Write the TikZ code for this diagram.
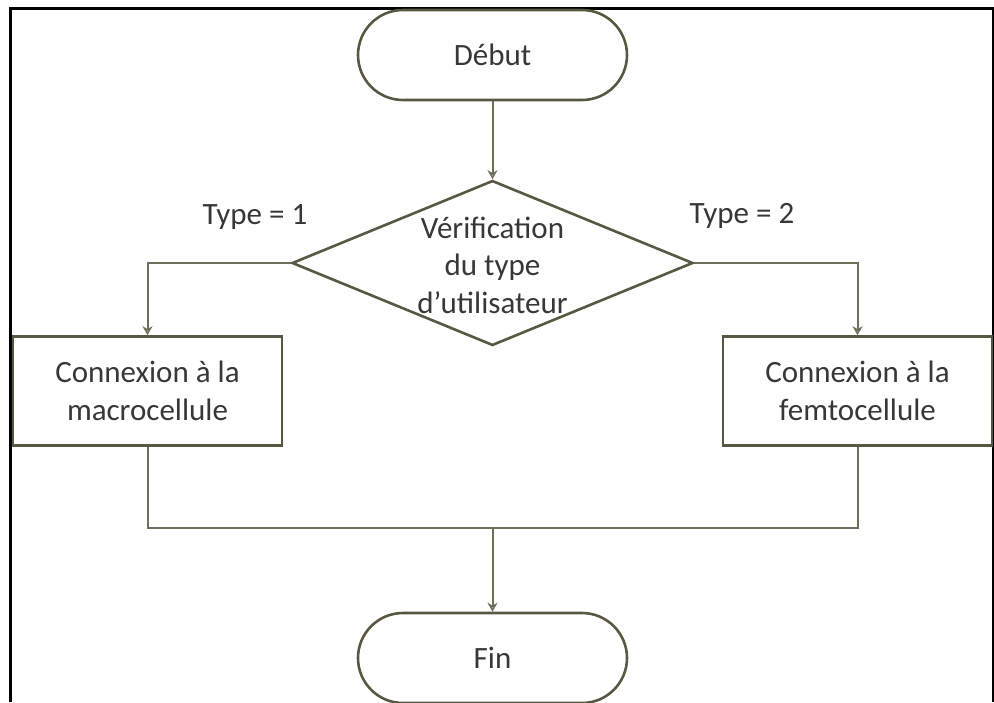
\documentclass[tikz,border=0pt]{standalone}
\usepackage{fontspec}
\setmainfont{Carlito}
\usetikzlibrary{shapes.geometric,arrows.meta}
\definecolor{edge}{RGB}{88,88,66}
\definecolor{conncol}{RGB}{110,110,92}
\definecolor{txtcol}{RGB}{55,55,55}
\tikzset{
  lbl/.style={text=txtcol,font=\fontsize{31}{37.5}\selectfont,align=center,inner sep=0pt},
  term/.style={draw=edge,line width=2.6pt,rectangle,rounded corners=45pt,minimum width=269pt,minimum height=90pt,inner sep=0pt},
  proc/.style={draw=edge,line width=2.6pt,rectangle,minimum width=269pt,minimum height=109pt,inner sep=0pt},
  decis/.style={draw=edge,line width=2.6pt,diamond,minimum width=401pt,minimum height=165pt,inner sep=0pt},
  conn/.style={draw=conncol,line width=2pt},
  arr/.style={conn,-{Stealth[length=9pt,width=10pt,open]}},
}
\begin{document}
\begin{tikzpicture}[x=1pt,y=-1pt]
\useasboundingbox (0,0) rectangle (994,702);
\draw[black,line width=3pt] (10,702) -- (10,8) -- (993,8) -- (993,702);
\node[term,lbl] (debut) at (492.5,55) {Début};
\node[decis] (dec) at (492.5,263) {};
\node[lbl] (dectxt) at (492.5,265) {Vérification\\du type\\d’utilisateur};
\node[proc,lbl] (lbox) at (147.5,391) {Connexion à la\\macrocellule};
\node[proc,lbl] (rbox) at (857.5,391) {Connexion à la\\femtocellule};
\node[term,lbl] (fin) at (492.5,658) {Fin};
\node[lbl] (t1) at (255,217) {Type = 1};
\node[lbl] (t2) at (742,216) {Type = 2};
\coordinate (j) at (492.5,528);
\draw[arr] (debut) -- (dec.north);
\draw[arr] (dec.west) -| (lbox.north);
\draw[arr] (dec.east) -| (rbox.north);
\draw[conn] (lbox.south) -- (lbox.south |- j) -- (rbox.south |- j) -- (rbox.south);
\draw[arr] (j) -- (fin.north);
\end{tikzpicture}
\end{document}
